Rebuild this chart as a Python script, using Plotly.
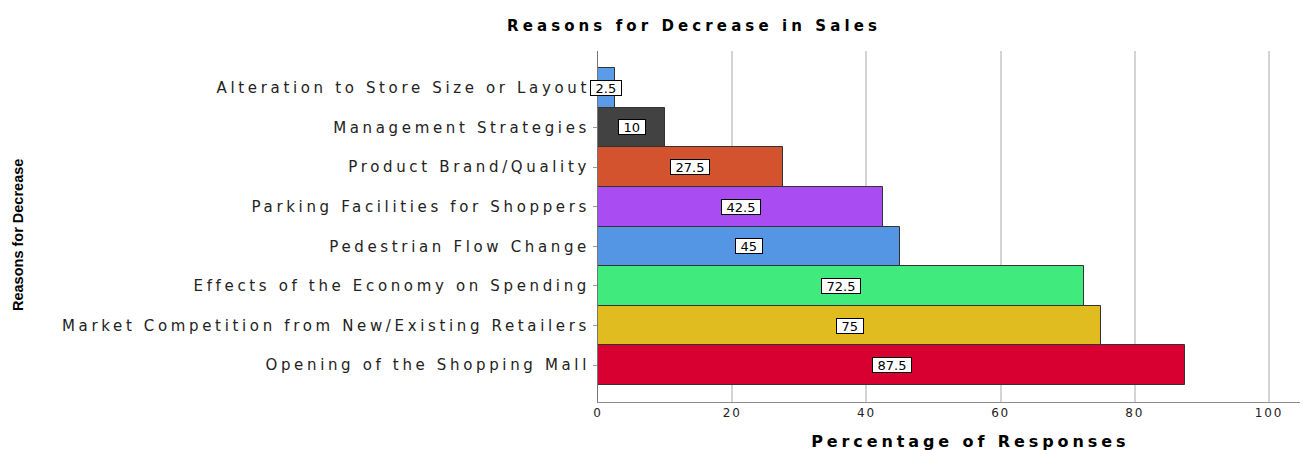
import plotly.graph_objects as go

# Reasons, listed bottom to top on the chart
reasons = [
    "Opening of the Shopping Mall",
    "Market Competition from New/Existing Retailers",
    "Effects of the Economy on Spending",
    "Pedestrian Flow Change",
    "Parking Facilities for Shoppers",
    "Product Brand/Quality",
    "Management Strategies",
    "Alteration to Store Size or Layout",
]
percentages = [87.5, 75, 72.5, 45, 42.5, 27.5, 10, 2.5]
bar_colors = ["#d70031", "#e0bc20", "#41ea7c", "#5596e4",
              "#a94cf2", "#d4532f", "#424242", "#5b9be8"]
x_ticks = [0, 20, 40, 60, 80, 100]

SANS = "DejaVu Sans, Verdana, sans-serif"
W, H = 1303, 450
L, R, T, B = 598, 3, 51, 48
pw, ph = W - L - R, H - T - B
PX_PER_UNIT = 6.71

fig = go.Figure()
fig.add_trace(go.Bar(
    y=reasons,
    x=percentages,
    orientation="h",
    marker=dict(color=bar_colors, line=dict(color="#333333", width=1)),
    width=1.0,
    hoverinfo="x+y",
))

# Boxed value labels centred within each bar
for r, v in zip(reasons, percentages):
    label = f"{v:g}"
    box_w = 8.3 * sum(c.isdigit() for c in label) + 4.2 * label.count(".") + 9
    fig.add_annotation(
        x=v / 2, y=r, xref="x", yref="y",
        text=label, showarrow=False,
        width=box_w, height=14, align="center", valign="middle",
        font=dict(family=SANS, size=13, color="#000000"),
        bgcolor="#ffffff", bordercolor="#000000", borderwidth=1, borderpad=0,
    )

# Axis titles
fig.add_annotation(
    x=(970 - L) / pw, y=-(441 - (H - B)) / ph, xref="paper", yref="paper",
    xanchor="center", yanchor="middle",
    text="<b>Percentage of Responses</b>", showarrow=False,
    font=dict(family=SANS, size=16, color="#000000"),
)
fig.add_annotation(
    x=(18 - L) / pw, y=((H - B) - 235) / ph, xref="paper", yref="paper",
    xanchor="center", yanchor="middle",
    text="<b>Reasons for Decrease</b>", showarrow=False, textangle=-90,
    font=dict(family="Liberation Sans Narrow, Arial Narrow, sans-serif", size=14.5, color="#000000"),
)

fig.update_layout(
    width=W, height=H,
    margin=dict(l=L, r=R, t=T, b=B, pad=0),
    paper_bgcolor="#ffffff", plot_bgcolor="#ffffff",
    bargap=0,
    showlegend=False,
    title=dict(
        text="<b>Reasons for Decrease in Sales</b>",
        x=694 / W, xref="container", xanchor="center",
        y=1 - 26 / H, yref="container", yanchor="middle",
        font=dict(family=SANS, size=15, color="#000000"),
    ),
    xaxis=dict(
        range=[0, pw / PX_PER_UNIT],
        tickvals=x_ticks,
        ticktext=[str(t) for t in x_ticks],
        showgrid=True, gridcolor="#d4d4d4", gridwidth=2,
        zeroline=False,
        showline=True, linecolor="#8c8c8c", linewidth=1,
        ticks="", ticklen=0,
        tickfont=dict(family=SANS, size=12, color="#222222"),
        fixedrange=True,
    ),
    yaxis=dict(
        type="category",
        categoryorder="array", categoryarray=reasons,
        range=[-0.93, 7.93],
        showgrid=False, zeroline=False,
        showline=True, linecolor="#777777", linewidth=1,
        ticks="outside", ticklen=4, tickcolor="#999999",
        tickfont=dict(family=SANS, size=15, color="#222222"),
        ticklabelstandoff=0,
        fixedrange=True,
    ),
)

# Wide letter spacing for the chart's text, applied once the plot is drawn
spacing_js = """
var gd = document.getElementById('{plot_id}');
function spread(sel, v) {
  gd.querySelectorAll(sel).forEach(function (t) { t.style.letterSpacing = v; });
}
spread('g.ytick text', '3.65px');
spread('g.xtick text', '1.8px');
spread('text.gtitle', '4.1px');
var ann = gd.querySelectorAll('g.annotation');
var xt = ann[ann.length - 2];
if (xt) { xt.querySelectorAll('text').forEach(function (t) { t.style.letterSpacing = '3.9px'; }); }
"""

fig.write_html("out.html", post_script=spacing_js)
